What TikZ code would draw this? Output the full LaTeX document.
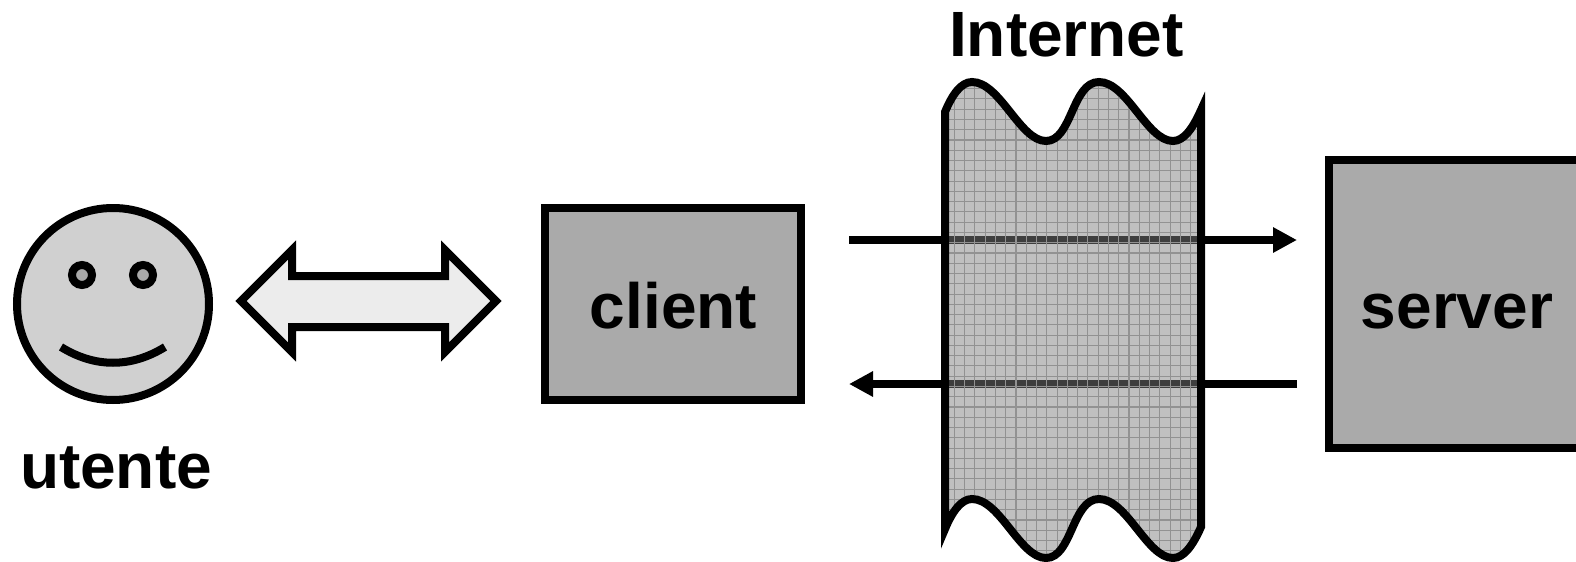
\documentclass[tikz,border=0pt]{standalone}
\usepackage{fontspec}
\setmainfont{Liberation Sans}
\usetikzlibrary{arrows.meta}
\definecolor{boxgray}{HTML}{AAAAAA}
\definecolor{facegray}{HTML}{D0D0D0}
\definecolor{palegray}{HTML}{ECECEC}
\definecolor{netgray}{HTML}{C0C0C0}
\definecolor{gridgray}{HTML}{929292}
\definecolor{bandgray}{HTML}{3E3E3E}
\tikzset{
  heavy/.style={draw=black,line width=4pt,line join=miter,miter limit=20},
  boxnode/.style={heavy,fill=boxgray,rectangle,inner sep=0pt,outer sep=0pt},
  label text/.style={inner sep=0pt,outer sep=0pt,anchor=base,font=\fontsize{32}{36}\selectfont\bfseries},
  flow/.style={line width=4pt,-{Triangle[length=12pt,width=12pt]}},
  flat/.style={line width=4pt},
  band/.style={line width=4pt,draw=bandgray},
  netgrid/.style={line width=0.55pt,draw=gridgray},
}
\newcommand{\netshape}{
  (945,112) .. controls (952,95) and (961,82) .. (972,82)
  .. controls (1000,82) and (1020,141) .. (1046,141)
  .. controls (1072,141) and (1072,82) .. (1099,82)
  .. controls (1127,82) and (1147,141) .. (1173,141)
  .. controls (1184,141) and (1193,128) .. (1201,110)
  -- (1201,527)
  .. controls (1193,545) and (1184,558) .. (1173,558)
  .. controls (1147,558) and (1127,499) .. (1099,499)
  .. controls (1072,499) and (1072,558) .. (1046,558)
  .. controls (1020,558) and (1000,499) .. (972,499)
  .. controls (961,499) and (952,512) .. (945,529)
  -- cycle}
\begin{document}
\begin{tikzpicture}[x=0.5pt,y=-0.5pt]
\useasboundingbox (0,0) rectangle (1576,562);
\clip (0,0) rectangle (1576,562);

% flow end points
\coordinate (reqstart) at (849,240);
\coordinate (reqend) at (1297,240);
\coordinate (respstart) at (1297,384);
\coordinate (respend) at (849,384);
\draw[flow] (reqstart) -- (reqend);
\draw[flow] (respstart) -- (respend);

% internet cloud
\fill[netgray] \netshape;
\coordinate (bandL) at (945,240);
\coordinate (bandR) at (1201,240);
\coordinate (bandL2) at (945,384);
\coordinate (bandR2) at (1201,384);
\draw[band] (bandL) -- (bandR);
\draw[band] (bandL2) -- (bandR2);
\begin{scope}
  \clip \netshape;
  \foreach \i in {0,...,24} {
    \draw[netgrid] ({954.4+10.27*\i},70) -- ({954.4+10.27*\i},570);
  }
  \foreach \i in {-16,...,31} {
    \draw[netgrid] (940,{242.7+10.27*\i}) -- (1210,{242.7+10.27*\i});
  }
\end{scope}
\draw[heavy] \netshape;

% face
\node[heavy,fill=facegray,circle,inner sep=0pt,outer sep=0pt,minimum size=96pt] (face) at (113,304) {};
\node[heavy,fill=boxgray,circle,inner sep=0pt,outer sep=0pt,minimum size=10pt] (eyeL) at (82,275) {};
\node[heavy,fill=boxgray,circle,inner sep=0pt,outer sep=0pt,minimum size=10pt] (eyeR) at (143,275) {};
\draw[flat] (61,347) .. controls (95,368) and (131,368) .. (165,347);

% double arrow
\draw[heavy,fill=palegray] (241,301) -- (292,250) -- (292,276) -- (445,276) -- (445,250)
  -- (496,301) -- (445,352) -- (445,327) -- (292,327) -- (292,352) -- cycle;

% boxes
\node[boxnode,minimum width=128pt,minimum height=96pt] (client) at (673,304) {};
\node[boxnode,minimum width=160pt,minimum height=144pt] (server) at (1489,304) {};

% labels
\node[label text] (internetlabel) at (1066.5,56) {Internet};
\node[label text] (clientlabel) at (673.5,328) {client};
\node[label text] (serverlabel) at (1457,328) {server};
\node[label text] (utentelabel) at (116,488) {utente};
\end{tikzpicture}
\end{document}
